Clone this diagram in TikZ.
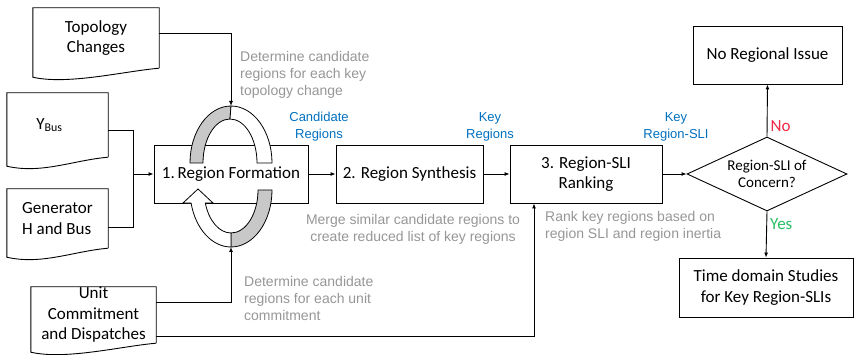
\documentclass[tikz,border=0pt]{standalone}
\usepackage{fontspec}
\setmainfont{Carlito}
\newfontfamily\annfont{Liberation Sans}
\usetikzlibrary{shapes.geometric,arrows.meta}
\definecolor{annogray}{RGB}{150,150,150}
\definecolor{labelblue}{RGB}{0,112,192}
\definecolor{nored}{RGB}{240,40,70}
\definecolor{yesgreen}{RGB}{40,190,100}
\definecolor{archgray}{RGB}{200,200,200}
\tikzstyle{every node}=[font=\fontsize{17}{20.5}\selectfont]
\tikzstyle{procbox}=[draw=black,line width=0.9pt,rectangle,minimum height=58pt,inner sep=2pt,align=center]
\tikzstyle{docbox}=[rectangle,align=center,inner sep=0pt]
\tikzstyle{docline}=[line width=0.9pt]
\tikzstyle{conn}=[line width=0.9pt]
\tikzstyle{flow}=[line width=0.9pt,-{Latex[length=5pt,width=4pt]}]
\tikzstyle{decision}=[draw=black,line width=0.9pt,diamond,aspect=2.1,minimum width=160pt,minimum height=74pt,inner sep=0pt,align=center,font=\fontsize{15}{17}\selectfont]
\tikzstyle{anno}=[text=annogray,font=\annfont\fontsize{14}{17}\selectfont,inner sep=0pt]
\tikzstyle{flowlabel}=[text=labelblue,font=\annfont\fontsize{13}{17}\selectfont,align=center,inner sep=0pt]
\tikzstyle{archband}=[draw=black,line width=0.8pt]
\newcommand{\docoutline}[1]{%
  \draw[docline] (#1.south east) -- (#1.north east) -- (#1.north west) -- ([yshift=-9pt]#1.south west)
    .. controls +(35pt,-8pt) and +(-35pt,-3pt) .. (#1.south east);}

\begin{document}
\begin{tikzpicture}[x=1pt,y=-1pt]
    \useasboundingbox (0,0) rectangle (854,355);
    \node[docbox,minimum width=126pt,minimum height=60pt] (topo) at (96,38) {Topology\\Changes};
    \node[docbox,minimum width=101pt,minimum height=64pt] (ybus) at (57.5,125) {Y\textsubscript{Bus}\hspace{16pt}};
    \node[docbox,minimum width=101pt,minimum height=59pt,align=left] (gen) at (57.5,218.5) {Generator\\H and Bus};
    \node[docbox,minimum width=125pt,minimum height=56pt] (uc) at (93.5,315) {Unit\\Commitment\\and Dispatches};
    \docoutline{topo}
    \docoutline{ybus}
    \docoutline{gen}
    \docoutline{uc}
    \node[procbox,minimum width=154pt] (formation) at (231,174) {1.\,Region Formation};
    \node[procbox,minimum width=147pt] (synthesis) at (409.5,174) {2. Region Synthesis};
    \node[procbox,minimum width=152pt] (ranking) at (586,174) {3. Region-SLI\\Ranking};
    \node[decision] (concern) at (767,174) {Region-SLI of\\Concern?};
    \node[procbox,minimum width=149pt] (noissue) at (767.5,55) {No Regional Issue};
    \node[procbox,minimum width=174pt,minimum height=59pt] (timedomain) at (766,287.5) {Time domain Studies\\for Key Region-SLIs};
    \coordinate (archtop) at (231,106);
    \coordinate (archbot) at (231,247);
    \coordinate (join) at (133,174);
    \draw[flow] ([yshift=5pt]topo.east) -| (archtop);
    \draw[conn] ([yshift=-5pt]ybus.east) -| (join);
    \draw[conn] ([yshift=-8.5pt]gen.east) -| (join);
    \draw[flow] (join) -- (formation.west);
    \draw[flow] ([yshift=13pt]uc.east) -| (archbot);
    \draw[flow] ([yshift=-21pt]uc.east) -| ([xshift=-52pt]ranking.south);
    \draw[flow] (formation.east) -- (synthesis.west);
    \draw[flow] (synthesis.east) -- (ranking.west);
    \draw[flow] (ranking.east) -- (concern.west);
    \draw[flow] (concern.north) -- node[right,text=nored,inner sep=3pt,pos=0.2] {No} (noissue.south);
    \draw[flow] (concern.south) -- node[right,text=yesgreen,inner sep=3pt,pos=0.28] {Yes} (timedomain.north);
    \filldraw[archband,fill=archgray] (190,163) arc[start angle=180,end angle=270,x radius=41,y radius=57]
        -- (230,119) arc[start angle=270,end angle=180,x radius=27,y radius=44] -- cycle;
    \filldraw[archband,fill=white] (231,106) arc[start angle=270,end angle=360,x radius=41,y radius=57]
        -- (257,163) arc[start angle=360,end angle=270,x radius=27,y radius=44] -- cycle;
    \filldraw[archband,fill=archgray] (272,190) arc[start angle=0,end angle=90,x radius=41,y radius=57]
        -- (231,233) arc[start angle=90,end angle=0,x radius=27,y radius=43] -- cycle;
    \filldraw[archband,fill=white] (231,247) arc[start angle=90,end angle=166.8,x radius=41,y radius=57]
        -- (183,203) -- (198,189) -- (213,203) -- (205.3,203)
        arc[start angle=162.4,end angle=90,x radius=27,y radius=43] -- cycle;
    \node[flowlabel] (candlabel) at (319,127) {Candidate\\Regions};
    \node[flowlabel] (keylabel) at (490,127) {Key\\Regions};
    \node[flowlabel] (slilabel) at (676,127) {Key\\Region-SLI};
    \node[anno,anchor=west,align=left] (topoanno) at (240,75) {Determine candidate\\regions for each key\\topology change};
    \node[anno,align=center] (mergeanno) at (413,229) {Merge similar candidate regions to\\create reduced list of key regions};
    \node[anno,anchor=west,align=left] (rankanno) at (545,226.5) {Rank key regions based on\\region SLI and region inertia};
    \node[anno,anchor=west,align=left] (ucanno) at (244,298) {Determine candidate\\regions for each unit\\commitment};
\end{tikzpicture}
\end{document}
